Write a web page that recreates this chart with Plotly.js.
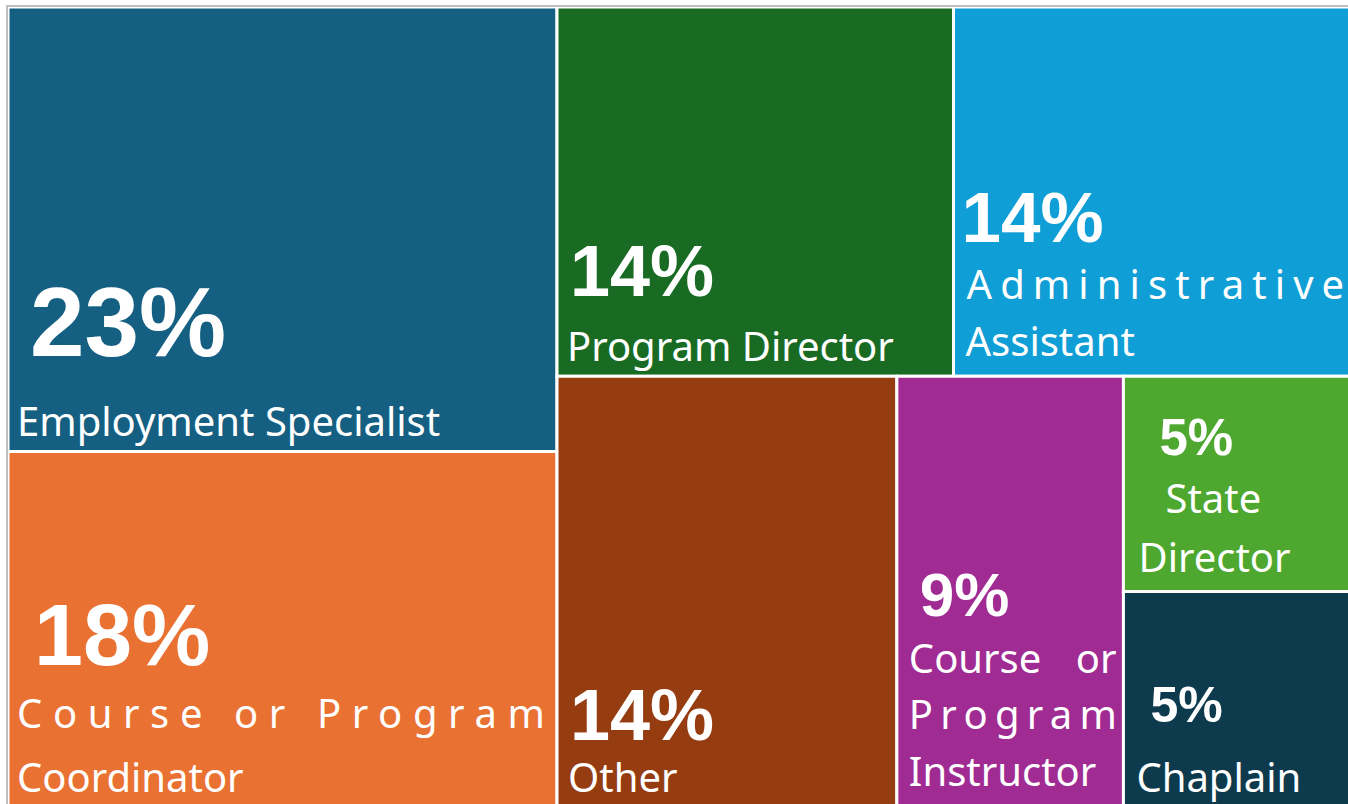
<!DOCTYPE html>
<html>
<head>
<meta charset="utf-8">
<script src="https://cdn.plot.ly/plotly-3.0.1.min.js"></script>
<style>
html,body{margin:0;padding:0;overflow:hidden;background:#ffffff;width:1348px;height:804px;}
#frame{position:absolute;left:6px;top:5px;width:1400px;height:900px;border:2px solid #bfbfbf;box-sizing:border-box;}
#chart{position:absolute;left:8px;top:7px;width:1342px;height:800px;}
</style>
</head>
<body>
<div id="frame"></div>
<div id="chart"></div>
<script>
// ---- data ----
const roles = ["Employment Specialist", "Course or Program Coordinator", "Program Director",
  "Administrative Assistant", "Other", "Course or Program Instructor", "State Director", "Chaplain"];
const counts = [5, 4, 3, 3, 3, 2, 1, 1];

// ---- styles ----
const tileColors = ["#156082", "#e97132", "#196b24", "#0f9ed5", "#963c11", "#a02b93", "#4ea72e", "#0e3a4d"];
const pctSize = [98, 88, 72, 71, 72, 62, 51, 50];
const lineBase = [62, 49, 50, 44, 40, 43.5, 45, 54];
const wordsPerLine = [[2], [3, 1], [2], [1, 1], [1], [2, 1, 1], [1, 1], [1]];
const letterSp = [[0], [10.6, 0], [0], [8.1, 0], [0], [0, 7.3, 0], [0, 0], [0]];
const wordSp = [[0], [0, 0], [0], [0, 0], [0], [24, 0, 0], [0, 0], [0]];
const pctLead = [19, 23, 10, 5, 10, 20, 33, 24];
const lineLead = [[6], [6, 6], [7], [10, 9], [8], [9, 9, 9], [39, 12], [10]];
const bottomLift = [0, 0, 4, 5, 4, 6, 5, 4];
const LABEL_PX = 40;
const NBSP = "\u00a0";

const total = counts.reduce((a, b) => a + b, 0);

function spacer(w) {
  if (!w) return "";
  const ls = (w - 0.26 * LABEL_PX).toFixed(1);
  return `<span style="font-size:${LABEL_PX}px;letter-spacing:${ls}px">${NBSP}</span>`;
}

function strut(lift) {
  if (!lift) return "";
  const f = (LABEL_PX + lift / 0.293).toFixed(1);
  return `<span style="font-size:${f}px;letter-spacing:-${(0.26 * f).toFixed(1)}px">${NBSP}</span>`;
}

function lineMarkup(str, ls, ws) {
  let st = `font-size:${LABEL_PX}px`;
  if (ws) st += `;word-spacing:${ws}px`;
  if (ls) {
    const head = str.slice(0, -1), tail = str.slice(-1);
    return `<span style="${st};letter-spacing:${ls}px">${head}</span><span style="${st}">${tail}</span>`;
  }
  return `<span style="${st}">${str}</span>`;
}

const tileText = roles.map((role, i) => {
  const pct = Math.round(counts[i] / total * 100) + "%";
  const words = role.split(" ");
  const nLines = wordsPerLine[i].length;
  let k = 0;
  const lines = wordsPerLine[i].map((n, j) => {
    const s = words.slice(k, k + n).join(" ");
    k += n;
    return spacer(lineLead[i][j]) + lineMarkup(s, letterSp[i][j], wordSp[i][j]) +
      (j === nLines - 1 ? strut(bottomLift[i]) : "");
  });
  const pctLine = spacer(pctLead[i]) +
    `<span style="font-family:'Liberation Sans',Arial,sans-serif;font-weight:bold;font-size:${pctSize[i]}px">${pct}</span>`;
  return [pctLine].concat(lines).join("<br>");
});

const trace = {
  type: "treemap",
  labels: roles,
  parents: roles.map(() => ""),
  values: counts,
  sort: true,
  text: tileText,
  textinfo: "text",
  textposition: "bottom left",
  textfont: {family: "Noto Sans, Open Sans, sans-serif", color: "#ffffff", size: lineBase},
  marker: {colors: tileColors, line: {color: "#ffffff", width: 3}, pad: {t: 0, l: 0, r: 0, b: 0}},
  tiling: {packing: "squarify", squarifyratio: 1, pad: 0},
  pathbar: {visible: false},
  hoverinfo: "none"
};

const layout = {
  width: 1342, height: 800,
  margin: {l: 0, r: 0, t: 0, b: 0, pad: 0},
  paper_bgcolor: "#ffffff",
  showlegend: false
};

Plotly.newPlot("chart", [trace], layout, {displayModeBar: false});
</script>
</body>
</html>
